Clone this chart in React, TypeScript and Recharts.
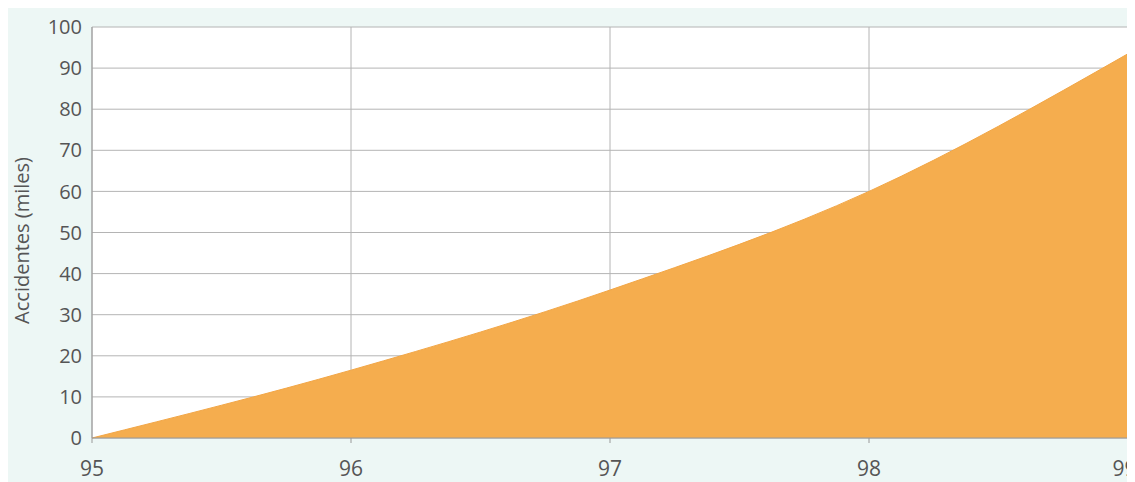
import React from "react";
import { AreaChart, Area, XAxis, YAxis, CartesianGrid } from "recharts";

const years = [95, 96, 97, 98, 99];
const accidents = [0, 16.5, 36, 60, 93.5];
const yTicks = [0, 10, 20, 30, 40, 50, 60, 70, 80, 90, 100];

const data = years.map((y, i) => ({ year: y, value: accidents[i] }));

const font = "'Open Sans', 'Noto Sans', sans-serif";

export default function App() {
  return (
    <div style={{ width: 1127, height: 474, background: "#edf7f5" }}>
      <style>{`.recharts-surface{overflow:visible}`}</style>
      <AreaChart
        width={1127}
        height={474}
        data={data}
        margin={{ top: 19, right: 7, left: 0, bottom: 0 }}
      >
        <CartesianGrid stroke="#b4b4b4" strokeWidth={1} fill="#ffffff" />
        <XAxis
          dataKey="year"
          type="number"
          domain={[95, 99]}
          ticks={years}
          height={44}
          stroke="#999"
          tickLine={{ stroke: "#999" }}
          tickSize={5}
          tickMargin={18}
          tick={{ fill: "#555", fontSize: 21, fontFamily: font }}
        />
        <YAxis
          domain={[0, 100]}
          ticks={yTicks}
          width={84}
          stroke="#999"
          tickLine={false}
          tick={{ fill: "#555", fontSize: 20, fontFamily: font, dx: -2 }}
          label={{
            value: "Accidentes (miles)",
            angle: -90,
            position: "insideLeft",
            offset: 14,
            dy: 8,
            style: { fill: "#555", fontSize: 20, fontFamily: font, textAnchor: "middle" },
          }}
        />
        <Area
          type="monotone"
          dataKey="value"
          stroke="#f2a646"
          strokeWidth={1}
          fill="#f5ad4e"
          fillOpacity={1}
          isAnimationActive={false}
        />
      </AreaChart>
    </div>
  );
}
